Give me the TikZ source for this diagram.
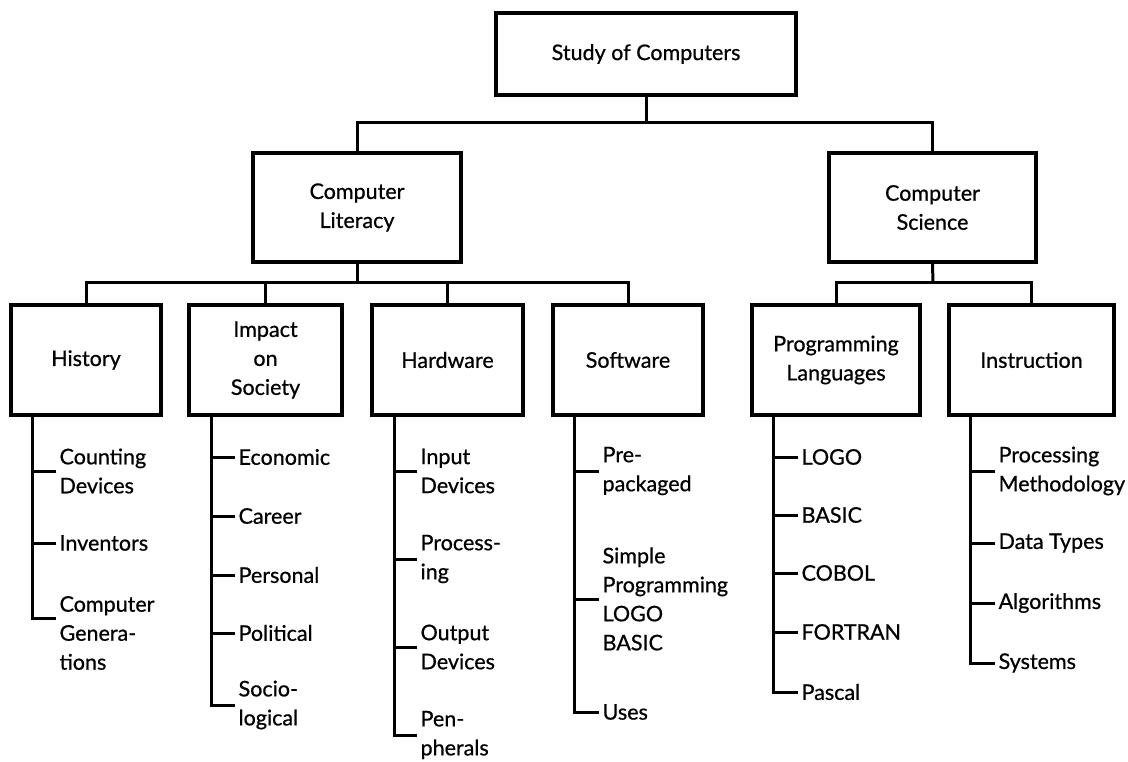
\documentclass[tikz,border=0pt]{standalone}
\usepackage{fontspec}
\setmainfont{Lato}[FakeBold=0.7]
\begin{document}
\begin{tikzpicture}[x=1pt,y=-1pt,
  line width=3.2pt,
  txt/.style={font=\fontsize{21.5}{29}\selectfont, align=center},
  box/.style={draw, txt, inner sep=0pt, line join=miter},
  leaf/.style={font=\fontsize{21.5}{29}\selectfont, align=left, anchor=west, inner xsep=2pt, inner ysep=0pt},
  link/.style={line width=3pt}
]
\useasboundingbox (0,0) rectangle (1128,762);

% boxes
\node[box, minimum width=300pt, minimum height=82pt]  (top)  at (646,54)     {Study of Computers};
\node[box, minimum width=208pt, minimum height=109pt] (lit)  at (357,207.5)  {Computer\\Literacy};
\node[box, minimum width=207pt, minimum height=109pt] (sci)  at (932.5,207.5){Computer\\Science};
\node[box, minimum width=150pt, minimum height=110pt] (hist) at (86,360)     {History};
\node[box, minimum width=153pt, minimum height=110pt] (imp)  at (265.5,360)  {Impact\\on\\Society};
\node[box, minimum width=151pt, minimum height=110pt] (hw)   at (447.5,360)  {Hardware};
\node[box, minimum width=150pt, minimum height=110pt] (sw)   at (628,360)    {Software};
\node[box, minimum width=168pt, minimum height=110pt] (prog) at (836,360)    {Programming\\Languages};
\node[box, minimum width=165pt, minimum height=110pt] (inst) at (1031.5,360) {Instruction};

% joints of the upper tree
\coordinate (j0) at (646,123);
\coordinate (j1) at (357,283);
\coordinate (j2) at (933,283);

\draw[link] (top.south) -- (j0);
\draw[link] (lit.north) |- (j0) -| (sci.north);
\draw[link] (lit.south) -- (j1);
\draw[link] (hist.north) |- (j1) -| (sw.north);
\draw[link] (imp.north) -- (imp.north |- j1);
\draw[link] (hw.north) -- (hw.north |- j1);
\draw[link] (sci.south) -- (j2);
\draw[link] (prog.north) |- (j2) -| (inst.north);

% History
\node[leaf] (h1) at (56,471) {Counting\\Devices};
\node[leaf] (h2) at (56,543) {Inventors};
\node[leaf] (h3) at (56,633) {Computer\\Genera-\\tions};
\coordinate (hT) at ([xshift=23pt]hist.south west);
\draw[link] (hT) |- ([yshift=15pt]h3.west);
\foreach \n in {h1,h2} \draw[link] (\n.west) -- (\n.west -| hT);

% Impact on Society
\node[leaf] (i1) at (235,457) {Economic};
\node[leaf] (i2) at (235,516) {Career};
\node[leaf] (i3) at (235,575) {Personal};
\node[leaf] (i4) at (235,633) {Political};
\node[leaf] (i5) at (235,705) {Socio-\\logical};
\coordinate (iT) at ([xshift=24pt]imp.south west);
\draw[link] (iT) |- (i5.west);
\foreach \n in {i1,i2,i3,i4} \draw[link] (\n.west) -- (\n.west -| iT);

% Hardware
\node[leaf] (w1) at (417,471) {Input\\Devices};
\node[leaf] (w2) at (417,559) {Process-\\ing};
\node[leaf] (w3) at (417,647) {Output\\Devices};
\node[leaf] (w4) at (417,735) {Pen-\\pherals};
\coordinate (wT) at ([xshift=24pt]hw.south west);
\draw[link] (wT) |- (w4.west);
\foreach \n in {w1,w2,w3} \draw[link] (\n.west) -- (\n.west -| wT);

% Software
\node[leaf] (s1) at (599,471) {Pre-\\packaged};
\node[leaf] (s2) at (599,599) {Simple\\Programming\\LOGO\\BASIC};
\node[leaf] (s3) at (599,712) {Uses};
\coordinate (sT) at ([xshift=23pt]sw.south west);
\draw[link] (sT) |- (s3.west);
\foreach \n in {s1,s2} \draw[link] (\n.west) -- (\n.west -| sT);

% Programming Languages
\node[leaf] (p1) at (798,457) {LOGO};
\node[leaf] (p2) at (798,515) {BASIC};
\node[leaf] (p3) at (798,573) {COBOL};
\node[leaf] (p4) at (798,632) {FORTRAN};
\node[leaf] (p5) at (798,692) {Pascal};
\coordinate (pT) at ([xshift=23pt]prog.south west);
\draw[link] (pT) |- (p5.west);
\foreach \n in {p1,p2,p3,p4} \draw[link] (\n.west) -- (\n.west -| pT);

% Instruction
\node[leaf] (n1) at (995,471) {Processing\\Methodology};
\node[leaf] (n2) at (995,543) {Data Types};
\node[leaf] (n3) at (995,603) {Algorithms};
\node[leaf] (n4) at (995,663) {Systems};
\coordinate (nT) at ([xshift=23pt]inst.south west);
\draw[link] (nT) |- (n4.west);
\foreach \n in {n1,n2,n3} \draw[link] (\n.west) -- (\n.west -| nT);
\end{tikzpicture}
\end{document}
